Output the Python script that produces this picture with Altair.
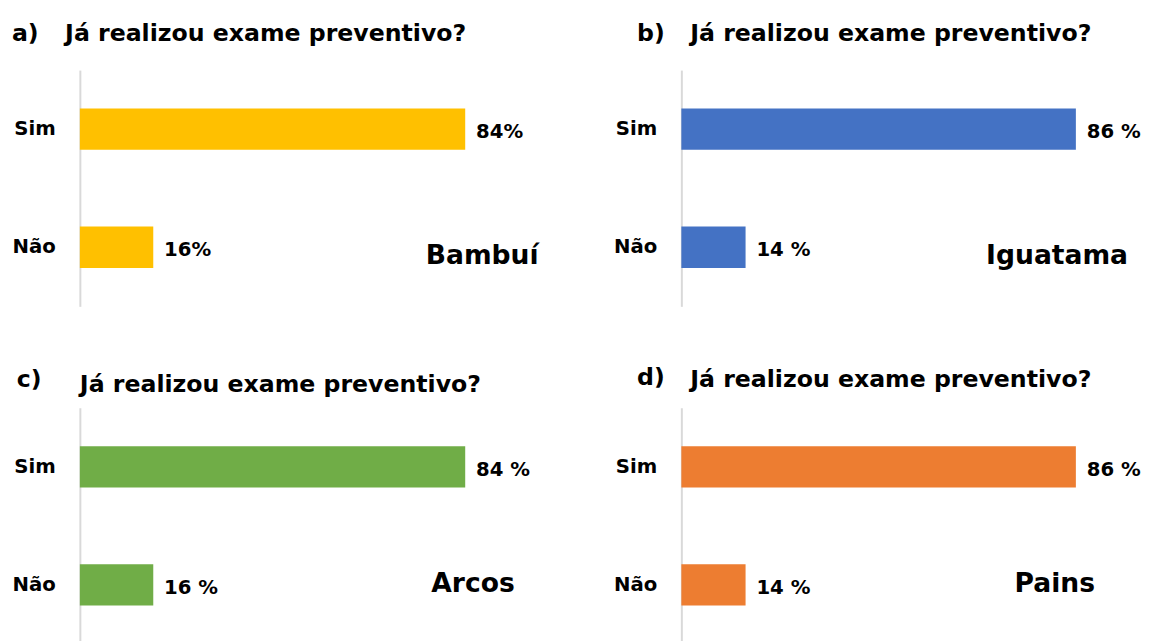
import altair as alt
import pandas as pd

# ---- data ----
categories = ["Sim", "Não"]
cities = ["Bambuí", "Iguatama", "Arcos", "Pains"]
panel_letters = ["a)", "b)", "c)", "d)"]
question = "Já realizou exame preventivo?"

values_bambui = [84, 16]
values_iguatama = [86, 14]
values_arcos = [84, 16]
values_pains = [86, 14]

labels_bambui = ["84%", "16%"]
labels_iguatama = ["86 %", "14 %"]
labels_arcos = ["84 %", "16 %"]
labels_pains = ["86 %", "14 %"]

colors = ["#FFC000", "#4472C4", "#70AD47", "#ED7D31"]

# ---- layout of annotations (pixels relative to each plot area / data units for city) ----
letter_pos = [(-69, -30), (-45, -30), (-64, -21), (-45, -23)]
title_pos = [(-15, -30), (9, -30), (0, -16), (9, -21)]
city_x = [87.7, 81.9, 85.7, 81.4]
city_dy = [9, 9, -1, -1]

FONT = "DejaVu Sans"
W, H = 466, 240


def panel(i, vals, labs):
    df = pd.DataFrame({"cat": categories, "val": vals, "lab": labs})
    yenc = alt.Y(
        "cat:N",
        sort=categories,
        title=None,
        axis=alt.Axis(
            labelFont=FONT,
            labelFontWeight="bold",
            labelFontSize=20,
            labelColor="#000000",
            labelPadding=25,
            ticks=False,
            domain=True,
            domainColor="#D9D9D9",
            domainWidth=2,
            grid=False,
        ),
    )
    xenc = alt.X("val:Q", scale=alt.Scale(domain=[0, 100]), axis=None)
    base = alt.Chart(df)
    bars = base.mark_bar(size=42, color=colors[i]).encode(x=xenc, y=yenc)
    vlab = base.mark_text(
        align="left", baseline="middle", dx=11, dy=3,
        font=FONT, fontWeight="bold", fontSize=20, color="#000000",
    ).encode(x=xenc, y=alt.Y("cat:N", sort=categories), text="lab:N")

    cdf = pd.DataFrame({"city": [cities[i]], "cx": [city_x[i]], "cat": [categories[1]]})
    city = alt.Chart(cdf).mark_text(
        align="center", baseline="middle", dy=city_dy[i],
        font=FONT, fontWeight="bold", fontSize=27, color="#000000",
    ).encode(x=alt.X("cx:Q"), y=alt.Y("cat:N", sort=categories), text="city:N")

    ldf = pd.DataFrame({"t": [panel_letters[i]]})
    letter = alt.Chart(ldf).mark_text(
        align="left", baseline="alphabetic",
        font=FONT, fontWeight="bold", fontSize=24, color="#000000",
    ).encode(x=alt.value(letter_pos[i][0]), y=alt.value(letter_pos[i][1]), text="t:N")

    tdf = pd.DataFrame({"t": [question]})
    title = alt.Chart(tdf).mark_text(
        align="left", baseline="alphabetic",
        font=FONT, fontWeight="bold", fontSize=24, color="#000000",
    ).encode(x=alt.value(title_pos[i][0]), y=alt.value(title_pos[i][1]), text="t:N")

    return alt.layer(bars, vlab, city, letter, title).properties(width=W, height=H)


pa = panel(0, values_bambui, labels_bambui)
pb = panel(1, values_iguatama, labels_iguatama)
pc = panel(2, values_arcos, labels_arcos)
pd_ = panel(3, values_pains, labels_pains)

chart = alt.concat(
    pa, pb, pc, pd_,
    columns=2,
    spacing={"row": 103, "column": 145},
    bounds="flush",
).properties(
    padding={"left": 4, "top": 9, "right": 5, "bottom": 0},
    background="#FFFFFF",
).configure_view(stroke=None)

chart.save("out.html", embed_options={"renderer": "svg", "actions": False})
